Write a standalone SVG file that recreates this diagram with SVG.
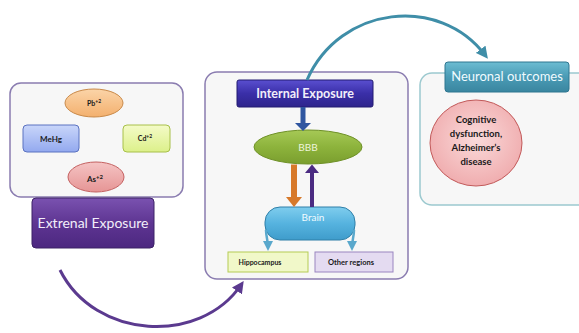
<svg xmlns="http://www.w3.org/2000/svg" width="579" height="333" viewBox="0 0 579 333">
<defs>
<linearGradient id="gPurple" x1="0" y1="0" x2="0" y2="1"><stop offset="0" stop-color="#7a52b0"/><stop offset="0.5" stop-color="#5e3592"/><stop offset="1" stop-color="#4c2780"/></linearGradient>
<linearGradient id="gIndigo" x1="0" y1="0" x2="0" y2="1"><stop offset="0" stop-color="#5a4fd0"/><stop offset="0.5" stop-color="#3a2fa8"/><stop offset="1" stop-color="#2e248c"/></linearGradient>
<linearGradient id="gTeal" x1="0" y1="0" x2="0" y2="1"><stop offset="0" stop-color="#6cbcd2"/><stop offset="0.5" stop-color="#4a9bb5"/><stop offset="1" stop-color="#3a86a0"/></linearGradient>
<linearGradient id="gBrain" x1="0" y1="0" x2="0" y2="1"><stop offset="0" stop-color="#7fcdee"/><stop offset="0.5" stop-color="#56b3df"/><stop offset="1" stop-color="#3f9ccb"/></linearGradient>
<linearGradient id="gBBB" x1="0" y1="0" x2="0" y2="1"><stop offset="0" stop-color="#a6c956"/><stop offset="0.5" stop-color="#8db33c"/><stop offset="1" stop-color="#7a9e2e"/></linearGradient>
<linearGradient id="gPb" x1="0" y1="0" x2="0" y2="1"><stop offset="0" stop-color="#fbd4a8"/><stop offset="1" stop-color="#f3b06e"/></linearGradient>
<linearGradient id="gAs" x1="0" y1="0" x2="0" y2="1"><stop offset="0" stop-color="#f5c4c4"/><stop offset="1" stop-color="#e69595"/></linearGradient>
<linearGradient id="gMe" x1="0" y1="0" x2="0" y2="1"><stop offset="0" stop-color="#c9d6fa"/><stop offset="1" stop-color="#93a9ef"/></linearGradient>
<linearGradient id="gCd" x1="0" y1="0" x2="0" y2="1"><stop offset="0" stop-color="#f4fbc8"/><stop offset="1" stop-color="#dcf08a"/></linearGradient>
<radialGradient id="gPink" cx="0.5" cy="0.45" r="0.6"><stop offset="0" stop-color="#fadada"/><stop offset="1" stop-color="#efa9ab"/></radialGradient>
<marker id="mTeal" viewBox="0 0 10 10" refX="6" refY="5" markerWidth="4" markerHeight="4" orient="auto"><path d="M0,0 L10,5 L0,10 z" fill="#3f8ea8"/></marker>
<marker id="mPurple" viewBox="0 0 10 10" refX="6" refY="5" markerWidth="4" markerHeight="4" orient="auto"><path d="M0,0 L10,5 L0,10 z" fill="#5b3a8f"/></marker>
<marker id="mSmall" viewBox="0 0 10 10" refX="6" refY="5" markerWidth="4" markerHeight="4" orient="auto"><path d="M0,0 L10,5 L0,10 z" fill="#5aa8cc"/></marker>
</defs>
<style>
.panel{fill:#f7f7f7;stroke-width:1.5}
.t{font-family:Lato,"Open Sans","Liberation Sans",sans-serif;text-anchor:middle}
.b{font-weight:bold;fill:#1a1a1a}
.w{fill:#f2eefa}
</style>
<rect width="579" height="333" fill="#ffffff"/>

<g id="external-panel">
<rect class="panel" x="10" y="83" width="173" height="114" rx="11" stroke="#8a7cb0"/>
</g>
<g id="pb"><ellipse cx="94" cy="103" rx="29" ry="14" fill="url(#gPb)" stroke="#c98a4a"/><text class="t b" x="94" y="106" font-size="7">Pb<tspan font-size="5" dy="-3">+2</tspan></text></g>
<g id="mehg"><rect x="23" y="125" width="56" height="27" rx="4" fill="url(#gMe)" stroke="#5b72c0"/><text class="t b" x="51" y="141.5" font-size="8">MeHg</text></g>
<g id="cd"><rect x="123" y="125" width="47" height="27" rx="4" fill="url(#gCd)" stroke="#a8c04a"/><text class="t b" x="145" y="141" font-size="7">Cd<tspan font-size="5" dy="-3">+2</tspan></text></g>
<g id="as"><ellipse cx="96" cy="177" rx="28" ry="15" fill="url(#gAs)" stroke="#c46060"/><text class="t b" x="95" y="182" font-size="8">As<tspan font-size="6" dy="-3">+2</tspan></text></g>
<g id="external"><rect x="32" y="198" width="122" height="50" rx="4" fill="url(#gPurple)" stroke="#3d2266"/><text class="t w" x="93" y="228" font-size="14">Extrenal Exposure</text></g>

<g id="internal-panel"><rect class="panel" x="205" y="72" width="203" height="207" rx="12" stroke="#8a7cb0"/></g>
<g id="internal"><rect x="237" y="80" width="136" height="27" rx="2" fill="url(#gIndigo)" stroke="#231a70"/><text class="t" x="305" y="98" font-size="12.5" font-weight="bold" fill="#f2eefa">Internal Exposure</text></g>
<g id="bbb"><ellipse cx="308" cy="147" rx="54" ry="17" fill="url(#gBBB)" stroke="#6f9128"/><text class="t" x="308" y="151" font-size="10" fill="#eef5dc">BBB</text></g>
<g id="brain"><rect x="265" y="207" width="90" height="33" rx="15" fill="url(#gBrain)" stroke="#2f7fa8"/><text class="t" x="313" y="221" font-size="10" fill="#f0fbff">Brain</text></g>
<g id="hippocampus"><rect x="228" y="252" width="80" height="20" fill="#f1f8c9" stroke="#b5cc55"/><text class="t b" x="260" y="265" font-size="7">Hippocampus</text></g>
<g id="other"><rect x="315" y="252" width="78" height="20" fill="#e4dbf1" stroke="#9a85c0"/><text class="t b" x="351" y="265" font-size="7.5">Other regions</text></g>

<g id="neuronal-panel"><rect class="panel" x="420" y="73" width="170" height="132" rx="12" stroke="#9cc9cf"/></g>
<g id="neuronal"><rect x="445" y="62" width="124" height="30" rx="3" fill="url(#gTeal)" stroke="#2f7690"/><text class="t" x="507" y="81" font-size="13" fill="#f0fbff">Neuronal outcomes</text></g>
<g id="cognitive"><ellipse cx="476" cy="143" rx="46" ry="43" fill="url(#gPink)" stroke="#c25a5a"/>
<text class="t b" x="476" y="123" font-size="9.5">Cognitive</text>
<text class="t b" x="476" y="137" font-size="9.5">dysfunction,</text>
<text class="t b" x="476" y="151" font-size="9.5">Alzheimer’s</text>
<text class="t b" x="476" y="165" font-size="9.5">disease</text></g>

<g id="connectors" fill="none">
<path d="M307,80 C340,5 440,-5 485,55" stroke="#3f8ea8" stroke-width="3" marker-end="url(#mTeal)"/>
<path d="M60,270 C95,340 200,345 241,285" stroke="#5b3a8f" stroke-width="3" marker-end="url(#mPurple)"/>
<line x1="303" y1="107" x2="303" y2="123" stroke="#2f56a0" stroke-width="5"/>
<path d="M295,123 L311,123 L303,131 z" fill="#2f56a0"/>
<line x1="294" y1="164.5" x2="294" y2="197" stroke="#d7792a" stroke-width="6"/>
<path d="M286,197 L302,197 L294,207 z" fill="#d7792a"/>
<line x1="312" y1="207" x2="312" y2="173" stroke="#4b2b82" stroke-width="4"/>
<path d="M305,173 L319,173 L312,164.5 z" fill="#4b2b82"/>
<path d="M266,230 C266,236 268,241 268,247" stroke="#5aa8cc" stroke-width="2.5" marker-end="url(#mSmall)"/>
<path d="M354,230 C354,236 352,241 352,247" stroke="#5aa8cc" stroke-width="2.5" marker-end="url(#mSmall)"/>
</g>
</svg>
